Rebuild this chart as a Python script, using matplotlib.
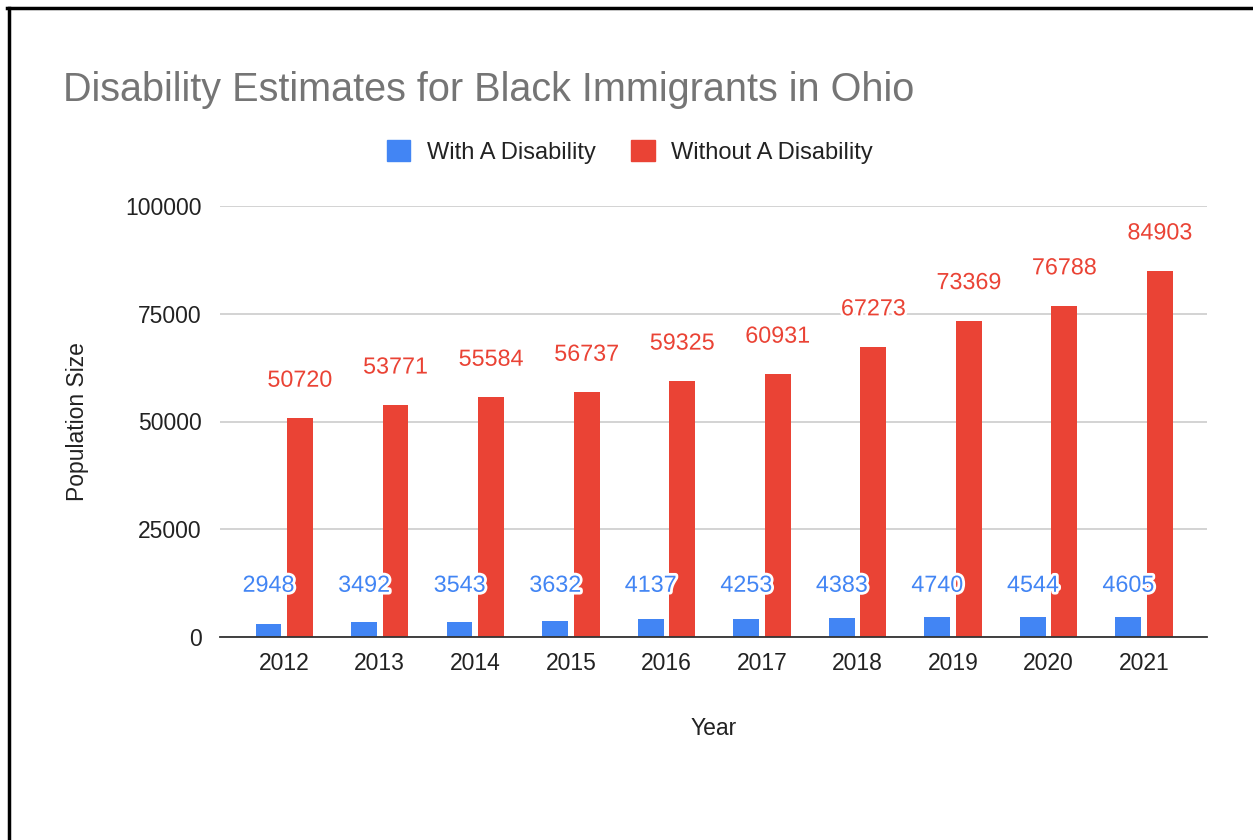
import matplotlib
matplotlib.use('Agg')
import matplotlib.pyplot as plt
from matplotlib.lines import Line2D
from matplotlib.patches import Patch
import matplotlib.patheffects as pe
import numpy as np

years = ['2012', '2013', '2014', '2015', '2016', '2017', '2018', '2019', '2020', '2021']
with_disability = [2948, 3492, 3543, 3632, 4137, 4253, 4383, 4740, 4544, 4605]
without_disability = [50720, 53771, 55584, 56737, 59325, 60931, 67273, 73369, 76788, 84903]

blue = '#4285F4'
red = '#EA4335'

plt.rcParams['font.family'] = ['Liberation Sans', 'DejaVu Sans']

W, H = 1253, 840
fig = plt.figure(figsize=(W / 100, H / 100), dpi=100)
fig.patch.set_facecolor('white')

ax = fig.add_axes([220 / W, 1 - 637 / H, (1207 - 220) / W, (637 - 206) / H])

x = np.arange(len(years))
bw = 0.27
off = 0.165
ax.bar(x - off, with_disability, bw, color=blue, zorder=3)
ax.bar(x + off, without_disability, bw, color=red, zorder=3)

ax.set_xlim(-0.672, 9.658)
ax.set_ylim(0, 100000)
ax.set_yticks([0, 25000, 50000, 75000, 100000])
ax.set_yticklabels(['0', '25000', '50000', '75000', '100000'])
ax.set_xticks(x)
ax.set_xticklabels(years)
ax.tick_params(axis='both', length=0, labelsize=16.5, colors='#222222')
ax.tick_params(axis='y', pad=13)
ax.tick_params(axis='x', pad=11)
ax.grid(axis='y', color='#cccccc', linewidth=1.2, zorder=0)
for s in ['top', 'right', 'left']:
    ax.spines[s].set_visible(False)
ax.spines['bottom'].set_color('#333333')
ax.spines['bottom'].set_linewidth(1.3)
ax.spines['bottom'].set_zorder(4)

ax.set_ylabel('Population Size', fontsize=16.5, color='#222222', labelpad=26)
ax.set_xlabel('Year', fontsize=16.5, color='#222222', labelpad=30)

halo = [pe.withStroke(linewidth=4, foreground='white')]
for i in range(len(years)):
    ax.text(x[i] - off, 12000, str(with_disability[i]), ha='center', va='center',
            fontsize=16.8, color=blue, path_effects=halo, zorder=5)
    ax.annotate(str(without_disability[i]), (x[i] + off, without_disability[i]),
                xytext=(0, 27.5), textcoords='offset points', ha='center', va='center',
                fontsize=16.8, color=red, path_effects=halo, zorder=5)

fig.text(63 / W, 1 - 90 / H, 'Disability Estimates for Black Immigrants in Ohio',
         fontsize=28.5, color='#757575', ha='left', va='center')

handles = [Patch(facecolor=blue, edgecolor=blue), Patch(facecolor=red, edgecolor=red)]
fig.legend(handles, ['With A Disability', 'Without A Disability'], ncol=2, frameon=False,
           loc='center', bbox_to_anchor=(630 / W, 1 - 152 / H), fontsize=17,
           handlelength=1.0, handleheight=1.0, handletextpad=0.7, columnspacing=1.5,
           labelcolor='#222222')

# frame lines on left and top
fig.add_artist(Line2D([8.5 / W, 8.5 / W], [0, 1 - 7.5 / H], color='black', linewidth=2.5,
                      transform=fig.transFigure))
fig.add_artist(Line2D([7 / W, 1], [1 - 7.5 / H, 1 - 7.5 / H], color='black', linewidth=2.5,
                      transform=fig.transFigure))

fig.savefig('out.png', dpi=100, facecolor='white')
